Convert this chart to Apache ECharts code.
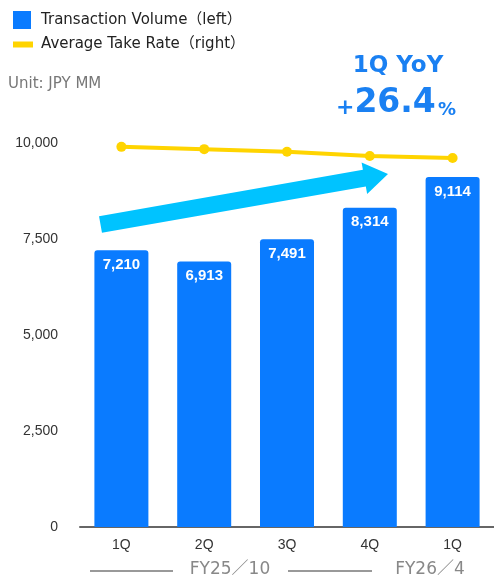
<!DOCTYPE html>
<html>
<head>
<meta charset="utf-8">
<script src="https://cdn.jsdelivr.net/npm/echarts@6/dist/echarts.min.js"></script>
<style>
  html, body { margin: 0; padding: 0; background: #fff; }
  #chart { width: 494px; height: 577px; }
</style>
</head>
<body>
<div id="chart"></div>
<script>
// Quarterly transaction volume (JPY MM) and average take rate
const quarters = ['1Q', '2Q', '3Q', '4Q', '1Q'];
const transactionVolume = [7210, 6913, 7491, 8314, 9114];
const averageTakeRate = [9.9, 9.84, 9.77, 9.66, 9.61];
const volumeTicks = [0, 2500, 5000, 7500, 10000];
const seriesNames = ['Transaction Volume（left）', 'Average Take Rate（right）'];
const fiscalYears = ['FY25／10', 'FY26／4'];
const yoyTitle = '1Q YoY';
const yoyValue = '26.4';

const BLUE = '#0A7BFF';
const YELLOW = '#FFD400';
const CYAN = '#00C3FF';
const TEXT_BLUE = '#1A80F2';
const SANS = "'DejaVu Sans', 'Noto Sans CJK JP', sans-serif";
const ARIAL = "'Liberation Sans', Arial, sans-serif";

const fmt = v => v.toLocaleString('en-US');

// Growth arrow polygon from tail centre to tip
function arrowPoints(tail, tip, shaftHalf, headLen, headHalf) {
  const dx = tip[0] - tail[0], dy = tip[1] - tail[1];
  const len = Math.hypot(dx, dy);
  const ux = dx / len, uy = dy / len;
  const nx = -uy, ny = ux;
  const bx = tip[0] - ux * headLen, by = tip[1] - uy * headLen;
  return [
    [tail[0] + nx * shaftHalf, tail[1] + ny * shaftHalf],
    [bx + nx * shaftHalf, by + ny * shaftHalf],
    [bx + nx * headHalf, by + ny * headHalf],
    [tip[0], tip[1]],
    [bx - nx * headHalf, by - ny * headHalf],
    [bx - nx * shaftHalf, by - ny * shaftHalf],
    [tail[0] - nx * shaftHalf, tail[1] - ny * shaftHalf]
  ];
}

const chart = echarts.init(document.getElementById('chart'), null, { renderer: 'canvas' });

chart.setOption({
  backgroundColor: '#fff',
  animation: false,
  legend: [
    {
      data: [{ name: seriesNames[0], icon: 'rect' }],
      left: 13, top: 11, padding: 0, itemWidth: 18, itemHeight: 18,
      selectedMode: false,
      textStyle: { fontFamily: SANS, fontSize: 15, color: '#222', padding: [0, 0, 0, 5] }
    },
    {
      data: [{ name: seriesNames[1], icon: 'rect', itemStyle: { color: YELLOW } }],
      left: 13, top: 37, padding: 0, itemWidth: 20, itemHeight: 6,
      selectedMode: false,
      textStyle: { fontFamily: SANS, fontSize: 15, color: '#222', padding: [0, 0, 0, 3] }
    }
  ],
  grid: { left: 80, right: -4, top: 143, bottom: 50, containLabel: false },
  xAxis: {
    type: 'category',
    data: quarters,
    axisLine: { show: true, lineStyle: { color: '#666', width: 2 } },
    axisTick: { show: false },
    axisLabel: { color: '#333', fontSize: 14, fontFamily: ARIAL, margin: 11 }
  },
  yAxis: [
    {
      type: 'value',
      min: volumeTicks[0],
      max: volumeTicks[volumeTicks.length - 1],
      interval: volumeTicks[1] - volumeTicks[0],
      axisLine: { show: false },
      axisTick: { show: false },
      splitLine: { show: false },
      axisLabel: {
        color: '#333', fontSize: 14, fontFamily: ARIAL,
        margin: 22, formatter: v => fmt(v)
      }
    },
    {
      type: 'value', min: 0, max: 10, show: false,
      splitLine: { show: false }
    }
  ],
  series: [
    {
      name: seriesNames[0],
      type: 'bar',
      data: transactionVolume,
      barWidth: 54,
      itemStyle: { color: BLUE, borderRadius: [3, 3, 0, 0] },
      label: {
        show: true, position: 'insideTop', distance: 7,
        color: '#fff', fontWeight: 'bold', fontSize: 15,
        fontFamily: ARIAL,
        formatter: p => fmt(p.value)
      },
      z: 2
    },
    {
      name: seriesNames[1],
      type: 'line',
      yAxisIndex: 1,
      data: averageTakeRate,
      symbol: 'circle',
      symbolSize: 10,
      lineStyle: { color: YELLOW, width: 4 },
      itemStyle: { color: YELLOW },
      z: 4
    }
  ],
  graphic: [
    {
      type: 'polygon', z: 3,
      shape: { points: arrowPoints([100.5, 224.5], [388, 174], 8.5, 24, 16) },
      style: { fill: CYAN }
    },
    {
      type: 'text', left: 8, top: 77,
      style: { text: 'Unit: JPY MM', fill: '#777', fontSize: 15, fontFamily: SANS }
    },
    {
      type: 'text', x: 398, y: 66,
      style: {
        text: yoyTitle, fill: TEXT_BLUE, fontSize: 23, fontWeight: 'bold',
        fontFamily: SANS, align: 'center', verticalAlign: 'middle'
      }
    },
    {
      type: 'text', x: 396, y: 103,
      style: {
        text: '{p|+}{n|' + yoyValue + '}{s| }{c|%}',
        align: 'center', verticalAlign: 'middle',
        rich: {
          p: { fill: TEXT_BLUE, fontSize: 22, fontWeight: 'bold', fontFamily: SANS, verticalAlign: 'bottom' },
          n: { fill: TEXT_BLUE, fontSize: 33, fontWeight: 'bold', fontFamily: SANS, verticalAlign: 'bottom' },
          s: { fontSize: 8 },
          c: { fill: TEXT_BLUE, fontSize: 18, fontWeight: 'bold', fontFamily: SANS, verticalAlign: 'bottom' }
        }
      }
    },
    {
      type: 'line', shape: { x1: 90, y1: 571, x2: 173, y2: 571 },
      style: { stroke: '#999', lineWidth: 2 }
    },
    {
      type: 'line', shape: { x1: 288, y1: 571, x2: 372, y2: 571 },
      style: { stroke: '#999', lineWidth: 2 }
    },
    {
      type: 'text', x: 230, y: 570,
      style: { text: fiscalYears[0], fill: '#888', fontSize: 17, fontFamily: SANS, align: 'center', verticalAlign: 'middle' }
    },
    {
      type: 'text', x: 430, y: 570,
      style: { text: fiscalYears[1], fill: '#888', fontSize: 17, fontFamily: SANS, align: 'center', verticalAlign: 'middle' }
    }
  ]
});
</script>
</body>
</html>
